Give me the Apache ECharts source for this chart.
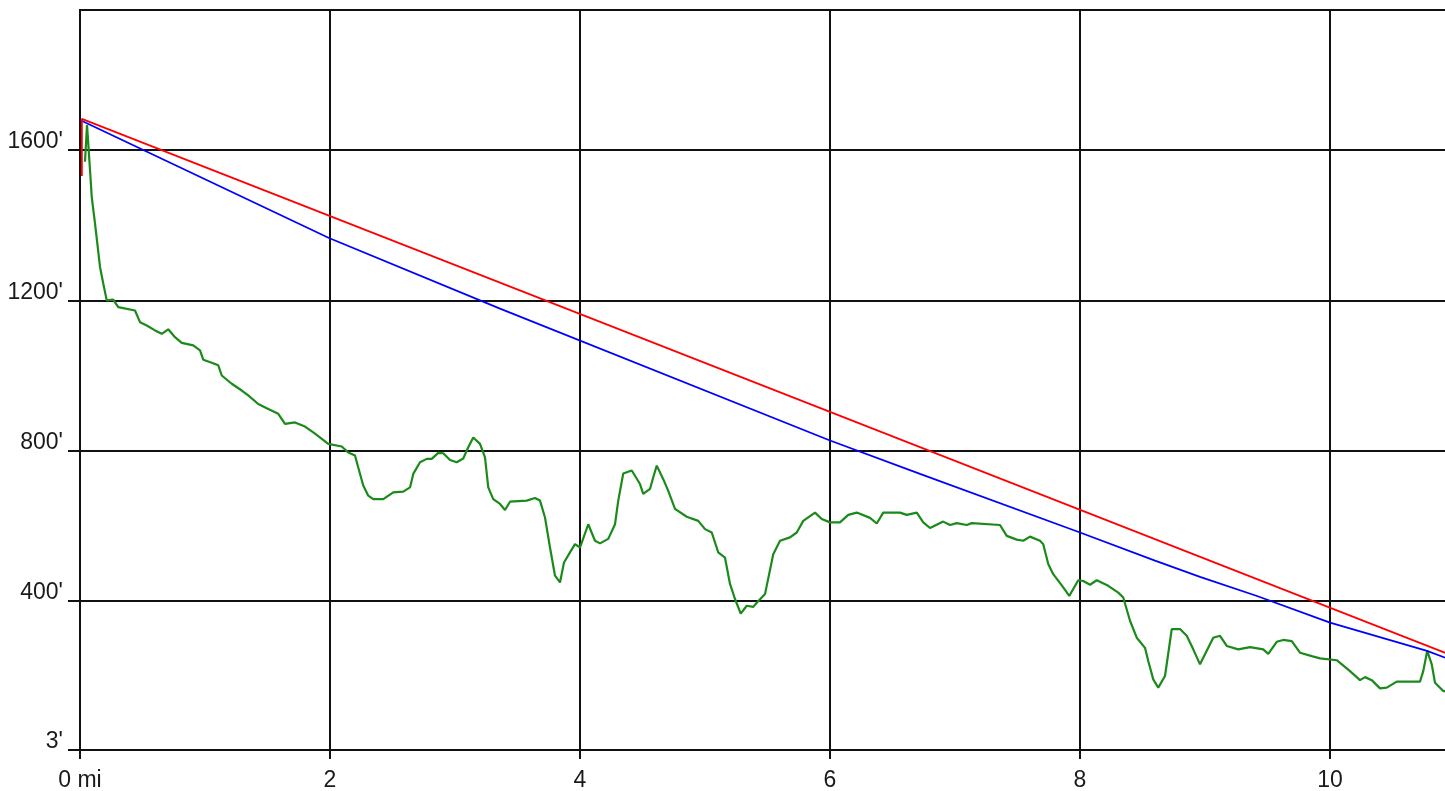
<!DOCTYPE html>
<html>
<head>
<meta charset="utf-8">
<script src="https://cdn.jsdelivr.net/npm/echarts@6/dist/echarts.min.js"></script>
<style>
html,body{margin:0;padding:0;background:#fff;}
#chart{width:1445px;height:791px;}
</style>
</head>
<body>
<div id="chart"></div>
<script>
// x in miles, y in feet
const xTicks = [0, 2, 4, 6, 8, 10];
const xTickLabels = ['0 mi', '2', '4', '6', '8', '10'];
const yTicks = [3, 400, 800, 1200, 1600];
const yTickLabels = ["3'", "400'", "800'", "1200'", "1600'"];

const redLine = [[0.015, 1531], [0.015, 1683], [10.944, 259]];

const blueLine = [
  [0, 1680], [1.992, 1366], [3.36, 1178], [6.0, 827], [6.72, 738], [8.0, 582],
  [8.6, 507], [8.96, 464], [9.416, 413], [10.0, 342], [10.776, 267], [10.944, 246]
];

const greenLine = [
  [0.04, 1569], [0.056, 1667], [0.066, 1618], [0.08, 1547], [0.094, 1475], [0.12, 1405],
  [0.142, 1342], [0.16, 1289], [0.186, 1245], [0.214, 1200], [0.266, 1202], [0.306, 1182],
  [0.44, 1173], [0.48, 1142], [0.534, 1133], [0.6, 1120], [0.654, 1111], [0.706, 1123],
  [0.76, 1102], [0.814, 1087], [0.906, 1080], [0.96, 1067], [0.986, 1042], [1.054, 1034],
  [1.106, 1027], [1.134, 1000], [1.214, 978], [1.294, 960], [1.346, 947], [1.426, 924],
  [1.506, 911], [1.586, 898], [1.64, 871], [1.72, 875], [1.8, 864], [1.88, 845],
  [1.986, 818], [2.094, 811], [2.146, 795], [2.2, 787], [2.226, 755], [2.266, 707],
  [2.306, 680], [2.346, 671], [2.426, 671], [2.506, 689], [2.586, 691], [2.64, 702],
  [2.666, 738], [2.72, 769], [2.774, 778], [2.814, 778], [2.866, 794], [2.906, 793],
  [2.96, 775], [3.014, 769], [3.066, 779], [3.106, 809], [3.146, 835], [3.2, 818],
  [3.24, 782], [3.266, 702], [3.306, 671], [3.36, 658], [3.4, 642], [3.44, 664],
  [3.574, 667], [3.64, 674], [3.68, 667], [3.72, 622], [3.76, 542], [3.8, 467],
  [3.84, 449], [3.872, 502], [3.92, 529], [3.96, 551], [4.0, 542], [4.066, 604],
  [4.12, 560], [4.16, 553], [4.226, 565], [4.28, 604], [4.306, 667], [4.346, 739],
  [4.414, 747], [4.48, 711], [4.506, 685], [4.56, 698], [4.586, 729], [4.614, 760],
  [4.666, 724], [4.706, 693], [4.76, 645], [4.854, 624], [4.946, 613], [5.0, 591],
  [5.054, 582], [5.106, 529], [5.16, 515], [5.2, 445], [5.24, 405], [5.286, 366],
  [5.334, 387], [5.386, 384], [5.414, 395], [5.48, 418], [5.546, 524], [5.6, 560],
  [5.68, 569], [5.734, 582], [5.786, 613], [5.88, 635], [5.934, 618], [6.0, 609],
  [6.08, 609], [6.146, 629], [6.214, 635], [6.32, 621], [6.374, 606], [6.426, 635],
  [6.56, 635], [6.614, 629], [6.694, 635], [6.746, 609], [6.8, 594], [6.906, 611],
  [6.96, 602], [7.014, 607], [7.094, 602], [7.134, 607], [7.36, 602], [7.414, 573],
  [7.494, 563], [7.546, 560], [7.6, 571], [7.68, 560], [7.706, 551], [7.746, 498],
  [7.786, 471], [7.866, 436], [7.914, 413], [7.986, 455], [8.026, 453], [8.08, 443],
  [8.134, 455], [8.226, 440], [8.306, 422], [8.346, 409], [8.4, 347], [8.454, 302],
  [8.52, 275], [8.546, 240], [8.586, 191], [8.626, 169], [8.68, 200], [8.734, 325],
  [8.8, 325], [8.854, 307], [8.906, 271], [8.96, 231], [9.066, 302], [9.12, 307],
  [9.174, 280], [9.266, 271], [9.36, 277], [9.466, 271], [9.506, 259], [9.574, 291],
  [9.626, 296], [9.694, 293], [9.76, 262], [9.854, 253], [9.92, 247], [10.054, 242],
  [10.16, 213], [10.24, 189], [10.28, 197], [10.334, 189], [10.4, 167], [10.454, 169],
  [10.534, 185], [10.72, 185], [10.746, 213], [10.778, 267], [10.814, 231], [10.84, 182],
  [10.906, 160], [10.944, 160]
];

const chart = echarts.init(document.getElementById('chart'), null, {renderer: 'canvas'});
const labelFont = {fontFamily: 'Liberation Sans, Arial, sans-serif', fontSize: 23, color: '#1a1a1a'};

chart.setOption({
  animation: false,
  backgroundColor: '#ffffff',
  grid: {
    left: 80, width: 1368, top: 10, height: 740,
    outerBoundsMode: 'none',
    containLabel: false,
    show: true, borderColor: '#111', borderWidth: 2, backgroundColor: 'transparent'
  },
  xAxis: {
    type: 'value',
    min: 0, max: 10.944, interval: 2,
    axisLine: {show: true, onZero: false, lineStyle: {color: '#111', width: 2}},
    axisTick: {show: true, length: 9, lineStyle: {color: '#111', width: 2}},
    axisLabel: Object.assign({
      margin: 19,
      showMaxLabel: false,
      formatter: function (v) {
        const i = xTicks.indexOf(v);
        return i >= 0 ? xTickLabels[i] : '';
      }
    }, labelFont),
    splitLine: {show: true, lineStyle: {color: '#111', width: 2}}
  },
  yAxis: {
    type: 'value',
    min: 3, max: 1973,
    axisLine: {show: true, onZero: false, lineStyle: {color: '#111', width: 2}},
    axisTick: {show: true, length: 12, customValues: yTicks, lineStyle: {color: '#111', width: 2}},
    axisLabel: Object.assign({
      margin: 17,
      customValues: yTicks,
      verticalAlign: 'bottom',
      lineHeight: 16,
      formatter: function (v) {
        const i = yTicks.indexOf(v);
        return i >= 0 ? yTickLabels[i] : '';
      }
    }, labelFont),
    splitLine: {show: true, lineStyle: {color: '#111', width: 1.8}}
  },
  series: [
    {
      type: 'line', data: greenLine, showSymbol: false, symbol: 'none',
      lineStyle: {color: '#1a8a1a', width: 2.2}, z: 3
    },
    {
      type: 'line', data: blueLine, showSymbol: false, symbol: 'none',
      lineStyle: {color: '#0000ff', width: 1.8}, z: 4
    },
    {
      type: 'line', data: redLine, showSymbol: false, symbol: 'none',
      lineStyle: {color: '#ff0000', width: 1.8}, z: 5
    }
  ]
});
</script>
</body>
</html>
